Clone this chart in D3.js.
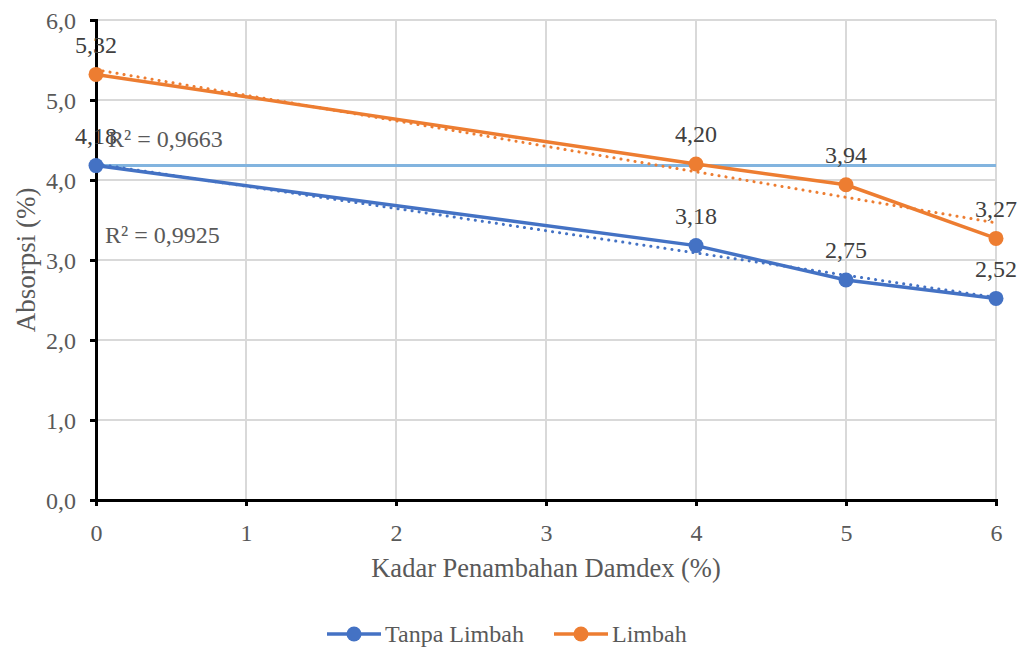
<!DOCTYPE html>
<html>
<head>
<meta charset="utf-8">
<script src="https://cdn.jsdelivr.net/npm/d3@7"></script>
<style>
  body { margin: 0; background: #fff; }
</style>
</head>
<body>
<svg id="chart" width="1026" height="649"></svg>
<script>
// data
var kadar = [0, 4, 5, 6];
var tanpaLimbah = [4.18, 3.18, 2.75, 2.52];
var limbah = [5.32, 4.20, 3.94, 3.27];
var seriesNames = ["Tanpa Limbah", "Limbah"];
var seriesColors = ["#4472C4", "#ED7D31"];
var referenceLine = 4.18;
var rSquared = ["0,9925", "0,9663"];
var xTicks = [0, 1, 2, 3, 4, 5, 6];
var yTicks = [0, 1, 2, 3, 4, 5, 6];

var svg = d3.select("#chart"),
    margin = {top: 20, right: 30, bottom: 149, left: 96},
    width = +svg.attr("width") - margin.left - margin.right,
    height = +svg.attr("height") - margin.top - margin.bottom,
    g = svg.append("g").attr("transform", "translate(" + margin.left + "," + margin.top + ")");

var x = d3.scaleLinear().domain([0, 6]).range([0, 900]);
var y = d3.scaleLinear().domain([0, 6]).range([height, 0]);
var fmt = function(v) { return d3.format(".1f")(v).replace(".", ","); };
var fmt2 = function(v) { return d3.format(".2f")(v).replace(".", ","); };

// gridlines
g.append("g").selectAll("line").data(yTicks).enter().append("line")
    .attr("x1", 0).attr("x2", x(6))
    .attr("y1", function(d) { return y(d); }).attr("y2", function(d) { return y(d); })
    .attr("stroke", "#d9d9d9").attr("stroke-width", 2);
g.append("g").selectAll("line").data(xTicks).enter().append("line")
    .attr("y1", 0).attr("y2", height)
    .attr("x1", function(d) { return x(d); }).attr("x2", function(d) { return x(d); })
    .attr("stroke", "#d9d9d9").attr("stroke-width", 2);

// axes
var yAxis = g.append("g")
    .call(d3.axisLeft(y).tickValues(yTicks).tickFormat(fmt).tickSize(6).tickPadding(14));
var xAxis = g.append("g")
    .attr("transform", "translate(0," + height + ")")
    .call(d3.axisBottom(x).tickValues(xTicks).tickFormat(d3.format("d")).tickSize(6).tickPadding(18));
[xAxis, yAxis].forEach(function(a) {
  a.attr("font-size", 24);
  a.select(".domain").attr("stroke", "#000").attr("stroke-width", 3);
  a.selectAll(".tick line").attr("stroke", "#000").attr("stroke-width", 3);
  a.selectAll("text").attr("fill", "#595959");
});
yAxis.selectAll(".tick text").attr("dy", "0.35em");

// axis titles
svg.append("text")
    .attr("transform", "translate(26," + (margin.top + height / 2) + ") rotate(-90)")
    .attr("text-anchor", "middle").attr("dy", "0.35em")
    .attr("font-size", 27).attr("fill", "#595959")
    .text("Absorpsi (%)");
svg.append("text")
    .attr("x", margin.left + x(3)).attr("y", 568)
    .attr("text-anchor", "middle").attr("dy", "0.35em")
    .attr("font-size", 26.5).attr("fill", "#595959")
    .text("Kadar Penambahan Damdex (%)");

// horizontal reference line
g.append("line")
    .attr("x1", x(0)).attr("x2", x(6))
    .attr("y1", y(referenceLine)).attr("y2", y(referenceLine))
    .attr("stroke", "#82B4DF").attr("stroke-width", 3);

var allSeries = [tanpaLimbah, limbah];

// linear trendlines (least squares, like the spreadsheet does)
function fit(ys) {
  var mx = d3.mean(kadar), my = d3.mean(ys), sxy = 0, sxx = 0;
  kadar.forEach(function(k, i) { sxy += (k - mx) * (ys[i] - my); sxx += (k - mx) * (k - mx); });
  var b = sxy / sxx;
  return {slope: b, intercept: my - b * mx};
}

allSeries.forEach(function(ys, s) {
  var f = fit(ys);
  g.append("line")
      .attr("x1", x(0)).attr("y1", y(f.intercept))
      .attr("x2", x(6)).attr("y2", y(f.intercept + f.slope * 6))
      .attr("stroke", seriesColors[s]).attr("stroke-width", 3)
      .attr("stroke-linecap", "round")
      .attr("stroke-dasharray", "0.1,7");
});

var line = d3.line()
    .x(function(d, i) { return x(kadar[i]); })
    .y(function(d) { return y(d); });

allSeries.forEach(function(ys, s) {
  var sg = g.append("g");
  sg.append("path").datum(ys)
      .attr("d", line)
      .attr("fill", "none")
      .attr("stroke", seriesColors[s]).attr("stroke-width", 3.5);
  sg.selectAll("circle").data(ys).enter().append("circle")
      .attr("cx", function(d, i) { return x(kadar[i]); })
      .attr("cy", function(d) { return y(d); })
      .attr("r", 7.5)
      .attr("fill", seriesColors[s]);
});

// data labels
allSeries.forEach(function(ys, s) {
  g.append("g").selectAll("text").data(ys).enter().append("text")
      .attr("x", function(d, i) { return x(kadar[i]); })
      .attr("y", function(d) { return y(d) - 30; })
      .attr("text-anchor", "middle").attr("dy", "0.35em")
      .attr("font-size", 24)
      .attr("fill", "#404040")
      .text(fmt2);
});

// R² labels
g.append("text").attr("x", 12).attr("y", 127)
    .attr("font-size", 24).attr("fill", "#595959")
    .text("R² = " + rSquared[1]);
g.append("text").attr("x", 9).attr("y", 223)
    .attr("font-size", 24).attr("fill", "#595959")
    .text("R² = " + rSquared[0]);

// legend
var legend = svg.append("g").attr("transform", "translate(327,634)");
var legX = [0, 227];
seriesNames.forEach(function(name, s) {
  var lg = legend.append("g").attr("transform", "translate(" + legX[s] + ",0)");
  lg.append("line").attr("x1", 0).attr("x2", 54).attr("y1", 0).attr("y2", 0)
      .attr("stroke", seriesColors[s]).attr("stroke-width", 3.5);
  lg.append("circle").attr("cx", 27).attr("cy", 0).attr("r", 7.5).attr("fill", seriesColors[s]);
  lg.append("text").attr("x", 58).attr("y", 0).attr("dy", "0.35em")
      .attr("font-size", 24).attr("fill", "#595959").text(name);
});

svg.selectAll("text").style("font-family", "'Liberation Serif'");
</script>
</body>
</html>
